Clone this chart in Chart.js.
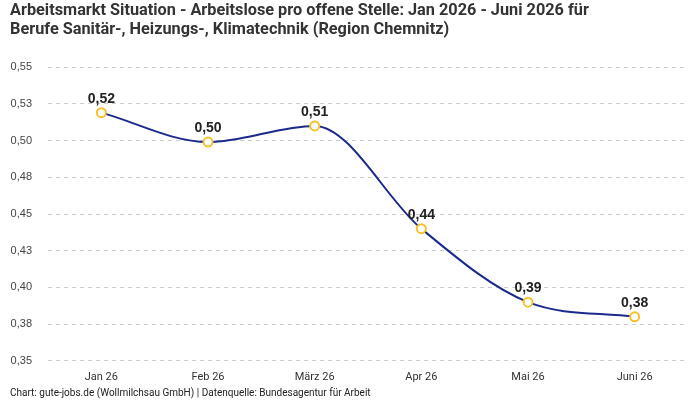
<!DOCTYPE html>
<html>
<head>
<meta charset="utf-8">
<script src="https://cdn.jsdelivr.net/npm/chart.js@4"></script>
<style>
  html, body { margin: 0; padding: 0; background: #fff; }
  #wrap { width: 700px; height: 400px; position: relative; }
</style>
</head>
<body>
<div id="wrap"><canvas id="chart"></canvas></div>
<script>
// Data
const months = ['Jan 26', 'Feb 26', 'März 26', 'Apr 26', 'Mai 26', 'Juni 26'];
const ratio = [0.519, 0.499, 0.51, 0.44, 0.39, 0.38];
const titleLines = [
  'Arbeitsmarkt Situation - Arbeitslose pro offene Stelle: Jan 2026 - Juni 2026 für',
  'Berufe Sanitär-, Heizungs-, Klimatechnik (Region Chemnitz)'
];
const sourceText = 'Chart: gute-jobs.de (Wollmilchsau GmbH) | Datenquelle: Bundesagentur für Arbeit';

function fmt(v) {
  return (Math.round(v * 100 + 1e-6) / 100).toFixed(2).replace('.', ',');
}

// Value labels above the points
const pointLabels = {
  id: 'pointLabels',
  afterDatasetsDraw(chart) {
    const ctx = chart.ctx;
    const meta = chart.getDatasetMeta(0);
    ctx.save();
    ctx.font = 'bold 14px "Liberation Sans", Arial, sans-serif';
    ctx.fillStyle = '#222';
    ctx.textAlign = 'center';
    ctx.textBaseline = 'bottom';
    meta.data.forEach((pt, i) => {
      ctx.fillText(fmt(ratio[i]), pt.x, pt.y - 7);
    });
    ctx.restore();
  }
};

new Chart(document.getElementById('chart'), {
  type: 'line',
  data: {
    labels: months,
    datasets: [{
      data: ratio,
      borderColor: '#1b2a8c',
      borderWidth: 2,
      cubicInterpolationMode: 'monotone',
      pointRadius: 4.5,
      pointBorderWidth: 2,
      pointBackgroundColor: '#fff',
      pointBorderColor: '#f7c12b',
      fill: false
    }]
  },
  options: {
    responsive: true,
    maintainAspectRatio: false,
    animation: false,
    layout: { padding: { left: 10, right: 12, top: 0, bottom: 0 } },
    plugins: {
      legend: { display: false },
      tooltip: { enabled: false },
      title: {
        display: true,
        text: titleLines,
        align: 'start',
        color: '#333',
        font: { family: 'Roboto', size: 16.3, weight: 'bold', lineHeight: 1.2 },
        padding: { top: 1, bottom: 27 }
      },
      subtitle: {
        display: true,
        position: 'bottom',
        text: sourceText,
        align: 'start',
        color: '#222',
        font: { family: 'Roboto', size: 10, lineHeight: 1.1 },
        padding: { top: 3, bottom: 1 }
      }
    },
    scales: {
      x: {
        offset: true,
        grid: { display: false },
        border: { display: false },
        ticks: {
          color: '#333',
          font: { family: 'Roboto', size: 11, lineHeight: 1.1 },
          padding: 2
        }
      },
      y: {
        min: 0.35,
        max: 0.55,
        afterFit(scale) { scale.width = 38; },
        ticks: {
          stepSize: 0.025,
          color: '#444',
          font: { family: '"Liberation Sans", Arial, sans-serif', size: 11 },
          padding: 16,
          callback: v => fmt(v)
        },
        grid: { color: '#cccccc', drawTicks: false },
        border: { display: false, dash: [4, 4] }
      }
    }
  },
  plugins: [pointLabels]
});
</script>
</body>
</html>
